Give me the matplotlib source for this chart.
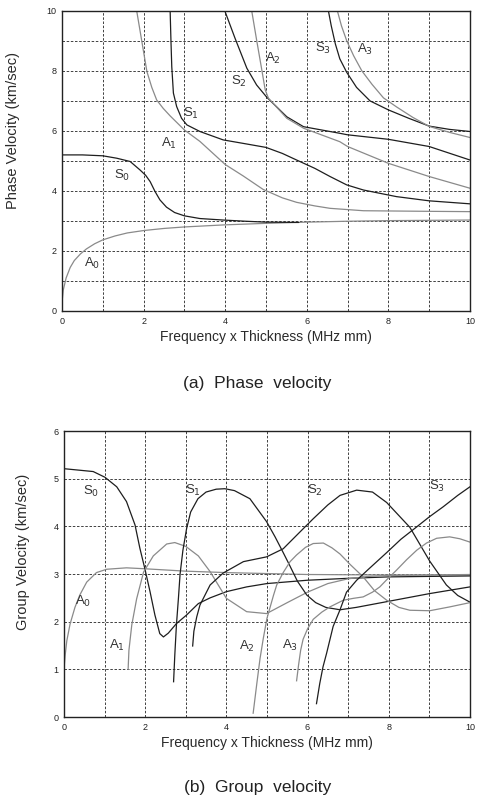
import matplotlib
matplotlib.use('Agg')
import matplotlib.pyplot as plt
from matplotlib.ticker import MultipleLocator

plt.rcParams['font.family'] = ['Liberation Sans', 'DejaVu Sans']

DARK = '#1e1e1e'
GRAY = '#8a8a8a'

# ---------------- (a) phase velocity ----------------
pA0_fd = [0.0, 0.03, 0.1, 0.2, 0.3, 0.45, 0.6, 0.8, 1.0, 1.3, 1.6, 2.0, 2.5, 3.0, 4.0, 5.0, 6.0, 7.0, 8.0, 9.0, 10.0]
pA0_v = [0.3, 0.7, 1.1, 1.45, 1.68, 1.9, 2.07, 2.24, 2.37, 2.5, 2.6, 2.68, 2.75, 2.8, 2.87, 2.92, 2.96, 2.99, 3.01, 3.02, 3.03]

pS0_fd = [0.0, 0.5, 1.0, 1.34, 1.67, 1.91, 2.05, 2.16, 2.28, 2.4, 2.56, 2.76, 3.0, 3.38, 3.95, 4.5, 5.0, 5.8]
pS0_v = [5.2, 5.2, 5.17, 5.09, 4.98, 4.7, 4.52, 4.31, 3.98, 3.7, 3.46, 3.28, 3.17, 3.08, 3.03, 2.99, 2.96, 2.95]

pA1_fd = [1.83, 1.95, 2.08, 2.2, 2.32, 2.48, 2.65, 3.0, 3.38, 4.0, 4.44, 4.93, 5.4, 5.75, 6.2, 6.57, 7.39, 8.2, 9.0, 10.0]
pA1_v = [10.0, 9.03, 7.98, 7.45, 7.03, 6.75, 6.5, 6.03, 5.65, 4.88, 4.5, 4.05, 3.77, 3.62, 3.5, 3.42, 3.34, 3.33, 3.32, 3.31]

pS1_fd = [2.65, 2.67, 2.69, 2.73, 2.81, 2.93, 3.06, 3.38, 3.95, 4.5, 5.0, 5.4, 5.75, 6.2, 6.57, 6.98, 7.39, 8.2, 9.0, 10.0]
pS1_v = [10.0, 9.0, 8.14, 7.26, 6.81, 6.42, 6.2, 5.98, 5.7, 5.57, 5.45, 5.25, 5.03, 4.75, 4.48, 4.2, 4.03, 3.81, 3.67, 3.57]

pS2_fd = [3.99, 4.24, 4.53, 4.77, 5.02, 5.51, 5.92, 6.81, 7.0, 8.0, 9.0, 10.0]
pS2_v = [10.0, 9.09, 8.09, 7.53, 7.12, 6.47, 6.14, 5.92, 5.87, 5.72, 5.48, 5.03]

pA2_fd = [4.65, 4.77, 4.89, 4.98, 5.06, 5.51, 5.92, 6.81, 7.0, 8.0, 9.0, 10.0]
pA2_v = [10.0, 9.03, 8.09, 7.37, 7.09, 6.42, 6.09, 5.64, 5.48, 4.92, 4.48, 4.09]

pS3_fd = [6.53, 6.6, 6.7, 6.81, 6.98, 7.22, 7.55, 8.0, 8.5, 9.0, 9.5, 10.0]
pS3_v = [10.0, 9.5, 8.9, 8.4, 7.95, 7.45, 7.0, 6.7, 6.42, 6.16, 6.05, 5.98]

pA3_fd = [6.75, 6.85, 6.98, 7.15, 7.35, 7.6, 7.88, 8.2, 8.6, 9.0, 9.5, 10.0]
pA3_v = [10.0, 9.5, 9.0, 8.5, 8.0, 7.55, 7.1, 6.8, 6.45, 6.15, 5.95, 5.78]

# ---------------- (b) group velocity ----------------
gA0_fd = [0.0, 0.03, 0.07, 0.15, 0.27, 0.39, 0.56, 0.8, 1.05, 1.54, 2.0, 3.0, 4.0, 5.0, 6.0, 8.0, 10.0]
gA0_v = [1.0, 1.3, 1.6, 1.95, 2.3, 2.56, 2.83, 3.03, 3.1, 3.13, 3.11, 3.06, 3.03, 3.01, 2.99, 2.98, 2.98]

gS0_fd = [0.0, 0.72, 1.01, 1.3, 1.54, 1.75, 1.87, 1.99, 2.12, 2.24, 2.36, 2.45, 2.57, 2.77, 3.02, 3.31, 3.6, 4.0, 4.5, 5.0, 6.0, 7.0, 8.0, 9.0, 10.0]
gS0_v = [5.21, 5.15, 5.03, 4.83, 4.52, 4.03, 3.54, 3.12, 2.63, 2.14, 1.75, 1.68, 1.76, 1.96, 2.14, 2.38, 2.5, 2.63, 2.73, 2.8, 2.87, 2.91, 2.94, 2.95, 2.96]

gA1_fd = [1.58, 1.6, 1.67, 1.79, 1.96, 2.2, 2.53, 2.73, 3.0, 3.31, 3.6, 4.0, 4.5, 4.99, 5.5, 6.0, 6.5, 7.0, 7.5, 8.0, 9.0, 10.0]
gA1_v = [1.0, 1.4, 1.93, 2.48, 3.04, 3.38, 3.63, 3.66, 3.58, 3.38, 3.05, 2.49, 2.21, 2.17, 2.4, 2.62, 2.8, 2.9, 2.95, 2.97, 2.98, 2.99]

gS1_fd = [2.7, 2.73, 2.77, 2.82, 2.86, 2.93, 3.02, 3.12, 3.3, 3.5, 3.75, 3.96, 4.2, 4.58, 4.99, 5.2, 5.4, 5.56, 5.75, 5.98, 6.2, 6.45, 6.8, 7.2, 7.95, 9.01, 10.0]
gS1_v = [0.74, 1.3, 1.93, 2.5, 3.0, 3.5, 3.95, 4.3, 4.58, 4.72, 4.78, 4.79, 4.75, 4.58, 4.1, 3.78, 3.45, 3.18, 2.85, 2.56, 2.4, 2.3, 2.25, 2.3, 2.42, 2.59, 2.73]

gS2_fd = [3.17, 3.2, 3.27, 3.35, 3.6, 3.92, 4.42, 4.99, 5.4, 5.81, 6.14, 6.5, 6.8, 7.21, 7.6, 7.95, 8.52, 9.01, 9.42, 9.7, 10.0]
gS2_v = [1.49, 1.8, 2.1, 2.35, 2.77, 3.02, 3.26, 3.36, 3.53, 3.88, 4.16, 4.45, 4.65, 4.76, 4.72, 4.5, 3.98, 3.27, 2.77, 2.55, 2.41]

gA2_fd = [4.66, 4.75, 4.83, 4.91, 5.0, 5.16, 5.24, 5.4, 5.57, 5.73, 5.95, 6.14, 6.39, 6.6, 6.8, 7.05, 7.37, 7.65, 7.95, 8.25, 8.52, 9.01, 9.5, 10.0]
gA2_v = [0.08, 0.7, 1.23, 1.65, 2.07, 2.55, 2.77, 3.03, 3.26, 3.4, 3.56, 3.64, 3.65, 3.55, 3.42, 3.2, 2.94, 2.65, 2.45, 2.3, 2.24, 2.23, 2.31, 2.4]

gA3_fd = [5.73, 5.78, 5.83, 5.89, 6.0, 6.14, 6.35, 6.55, 6.88, 7.13, 7.37, 7.6, 7.78, 7.95, 8.19, 8.44, 8.69, 8.93, 9.18, 9.5, 9.75, 10.0]
gA3_v = [0.76, 1.1, 1.4, 1.63, 1.85, 2.05, 2.2, 2.31, 2.45, 2.49, 2.52, 2.62, 2.73, 2.88, 3.08, 3.3, 3.5, 3.65, 3.75, 3.78, 3.74, 3.67]

gS3_fd = [6.22, 6.3, 6.38, 6.47, 6.63, 6.8, 6.96, 7.21, 7.5, 7.95, 8.3, 8.69, 9.0, 9.34, 9.7, 10.0]
gS3_v = [0.28, 0.7, 1.05, 1.34, 1.9, 2.25, 2.62, 2.87, 3.1, 3.45, 3.73, 3.99, 4.2, 4.41, 4.65, 4.83]

# mode labels: (letter, subscript, fd, v)
p_labels = [('S', '0', 1.47, 4.53), ('A', '0', 0.73, 1.59), ('A', '1', 2.61, 5.59),
            ('S', '1', 3.16, 6.59), ('S', '2', 4.33, 7.64), ('A', '2', 5.18, 8.42),
            ('S', '3', 6.39, 8.76), ('A', '3', 7.43, 8.7)]
g_labels = [('S', '0', 0.68, 4.73), ('A', '0', 0.48, 2.42), ('A', '1', 1.30, 1.51),
            ('S', '1', 3.19, 4.76), ('A', '2', 4.5, 1.48), ('S', '2', 6.18, 4.76),
            ('A', '3', 5.57, 1.51), ('S', '3', 9.18, 4.83)]


def style_axes(ax, ymax, ymajor):
    ax.set_xlim(0, 10)
    ax.set_ylim(0, ymax)
    ax.xaxis.set_major_locator(MultipleLocator(2))
    ax.xaxis.set_minor_locator(MultipleLocator(1))
    ax.yaxis.set_major_locator(MultipleLocator(ymajor))
    ax.yaxis.set_minor_locator(MultipleLocator(1))
    ax.grid(True, which='both', color='#222222', ls=(0, (3, 2)), lw=0.6)
    ax.tick_params(which='both', length=0, labelsize=6.5, colors='#222222', pad=4)
    for s in ax.spines.values():
        s.set_linewidth(1.0)
        s.set_color('#222222')
    ax.set_xlabel('Frequency x Thickness (MHz mm)', fontsize=10, color='#2a2a2a', labelpad=3)


def put_labels(ax, labels):
    for letter, sub, x, y in labels:
        ax.text(x, y, letter + '$_{' + sub + '}$', fontsize=9.5, color='#333333',
                ha='center', va='center')


fig = plt.figure(figsize=(4.81, 8.09), dpi=100)

ax1 = fig.add_axes([0.129, 0.6156, 0.848, 0.371])
ax1.plot(pA0_fd, pA0_v, color=GRAY, lw=0.9)
ax1.plot(pS0_fd, pS0_v, color=DARK, lw=0.9)
ax1.plot(pA1_fd, pA1_v, color=GRAY, lw=0.9)
ax1.plot(pS1_fd, pS1_v, color=DARK, lw=0.9)
ax1.plot(pS2_fd, pS2_v, color=DARK, lw=0.9)
ax1.plot(pA2_fd, pA2_v, color=GRAY, lw=0.9)
ax1.plot(pS3_fd, pS3_v, color=DARK, lw=0.9)
ax1.plot(pA3_fd, pA3_v, color=GRAY, lw=0.9)
style_axes(ax1, 10, 2)
ax1.set_ylabel('Phase Velocity (km/sec)', fontsize=10.5, color='#2a2a2a')
ax1.yaxis.set_label_coords(-0.103, 0.6)
put_labels(ax1, p_labels)
fig.text(0.535, 0.526, '(a)  Phase  velocity', fontsize=12.5, ha='center', va='center', color='#222222')

ax2 = fig.add_axes([0.133, 0.1137, 0.844, 0.3535])
ax2.plot(gA0_fd, gA0_v, color=GRAY, lw=0.9)
ax2.plot(gS0_fd, gS0_v, color=DARK, lw=0.9)
ax2.plot(gA1_fd, gA1_v, color=GRAY, lw=0.9)
ax2.plot(gS1_fd, gS1_v, color=DARK, lw=0.9)
ax2.plot(gS2_fd, gS2_v, color=DARK, lw=0.9)
ax2.plot(gA2_fd, gA2_v, color=GRAY, lw=0.9)
ax2.plot(gA3_fd, gA3_v, color=GRAY, lw=0.9)
ax2.plot(gS3_fd, gS3_v, color=DARK, lw=0.9)
style_axes(ax2, 6, 1)
ax2.set_ylabel('Group Velocity (km/sec)', fontsize=10.5, color='#2a2a2a')
ax2.yaxis.set_label_coords(-0.084, 0.577)
put_labels(ax2, g_labels)
fig.text(0.535, 0.027, '(b)  Group  velocity', fontsize=12.5, ha='center', va='center', color='#222222')

fig.savefig('out.png', dpi=100)
